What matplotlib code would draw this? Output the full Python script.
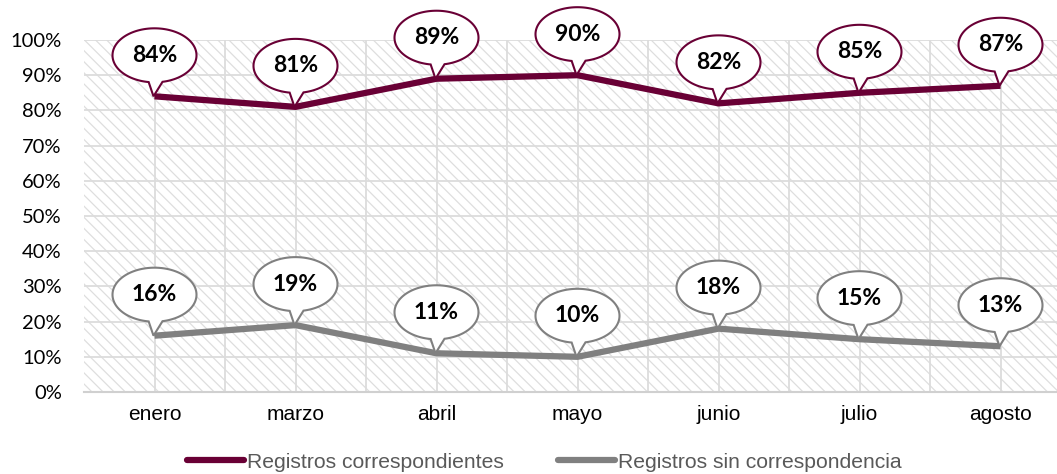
import numpy as np
import matplotlib
matplotlib.use("Agg")
import matplotlib.pyplot as plt
import matplotlib.transforms as mtransforms
from matplotlib.patches import Polygon, Rectangle

# data
months = ["enero", "marzo", "abril", "mayo", "junio", "julio", "agosto"]
correspondientes = [84, 81, 89, 90, 82, 85, 87]
sin_correspondencia = [16, 19, 11, 10, 18, 15, 13]
y_ticks = [0, 10, 20, 30, 40, 50, 60, 70, 80, 90, 100]

MAROON = "#690035"
GRAY = "#808080"
DPI = 100

plt.rcParams["hatch.linewidth"] = 0.9

fig = plt.figure(figsize=(10.57, 4.74), dpi=DPI)
ax = fig.add_axes([84 / 1057, 82 / 474, 987 / 1057, 352 / 474])

# hatched background
ax.add_patch(Rectangle((0, 0), 1, 1, transform=ax.transAxes, facecolor="white",
                       edgecolor="#dedede", hatch="\\\\\\", lw=0, zorder=0))

x = np.arange(len(months))
ax.set_xlim(-0.5, len(months) - 0.5)
ax.set_ylim(0, 100)

ax.set_xticks(x)
ax.set_xticklabels(months, fontsize=15, family="Liberation Sans")
ax.set_xticks(x[:-1] + 0.5, minor=True)
ax.set_yticks(y_ticks)
ax.set_yticklabels([f"{v}%" for v in y_ticks], fontsize=14.5, family="Lato")
ax.tick_params(which="both", length=0)
ax.tick_params(axis="y", pad=16)
ax.tick_params(axis="x", pad=9)
ax.grid(True, which="both", color="#dcdcdc", lw=1.3, zorder=1)
ax.set_axisbelow(True)
for s in ["top", "right", "left"]:
    ax.spines[s].set_visible(False)
ax.spines["bottom"].set_color("#d0d0d0")
ax.spines["bottom"].set_linewidth(1.5)

l1, = ax.plot(x, correspondientes, color=MAROON, lw=4.5, solid_capstyle="butt",
              solid_joinstyle="round", zorder=3, label="Registros correspondientes")
l2, = ax.plot(x, sin_correspondencia, color=GRAY, lw=4.5, solid_capstyle="butt",
              solid_joinstyle="round", zorder=3, label="Registros sin correspondencia")


def balloon(xv, yv, color):
    # shape in pixels relative to data point, converted to inches
    cy, a, b = 41, 42, 27
    t1 = np.radians(-79)
    t2 = np.radians(-98) + 2 * np.pi
    th = np.linspace(t1, t2, 120)
    pts = [(a * np.cos(t), cy + b * np.sin(t)) for t in th]
    pts.append((-1, 0))
    pts = np.array(pts) / DPI
    tr = fig.dpi_scale_trans + mtransforms.ScaledTranslation(xv, yv, ax.transData)
    ax.add_patch(Polygon(pts, closed=True, transform=tr, facecolor="white",
                         edgecolor=color, lw=1.5, zorder=5, clip_on=False))
    ax.text(0, cy / DPI, f"{yv}%", transform=tr, ha="center", va="center",
            fontsize=16.5, fontweight="bold", family="Lato", color="black", zorder=6)


for xi, v in zip(x, correspondientes):
    balloon(xi, v, MAROON)
for xi, v in zip(x, sin_correspondencia):
    balloon(xi, v, GRAY)

leg = fig.legend(handles=[l1, l2], loc="center", bbox_to_anchor=(544 / 1057, 1 - 462 / 474),
                 ncol=2, frameon=False, handlelength=2.7, handletextpad=0.15,
                 columnspacing=2.55, prop={"family": "Liberation Sans", "size": 15.2})
for t in leg.get_texts():
    t.set_color("#595959")
for h in leg.get_lines():
    h.set_solid_capstyle("round")

fig.savefig("out.png", dpi=DPI)
